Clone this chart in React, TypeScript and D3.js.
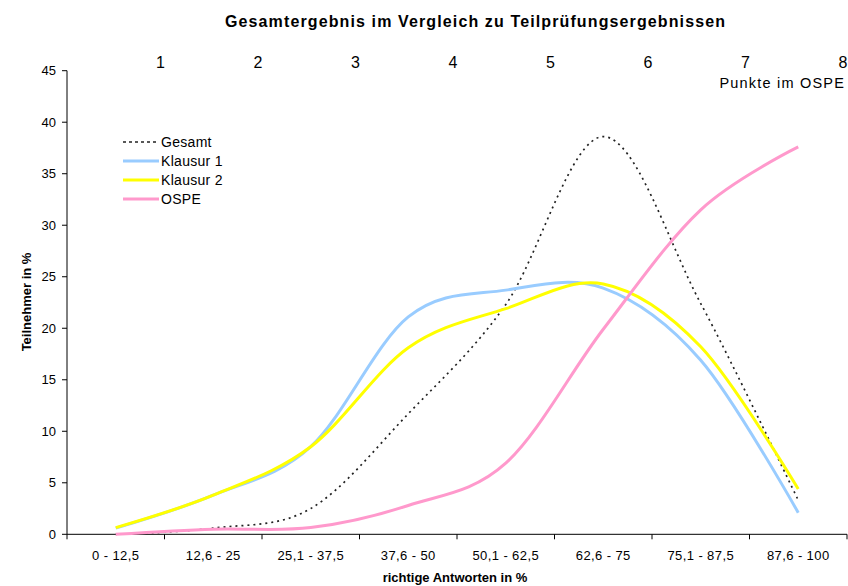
import React from "react";
import * as d3 from "d3";

const categories = ["0 - 12,5", "12,6 - 25", "25,1 - 37,5", "37,6 - 50", "50,1 - 62,5", "62,6 - 75", "75,1 - 87,5", "87,6 - 100"];
const gesamt = [0, 0.6, 2.5, 11.7, 22.3, 38.6, 22.4, 3.3];
const klausur1 = [0.6, 3.8, 8.5, 21.1, 23.7, 23.9, 16.9, 2.1];
const klausur2 = [0.65, 3.8, 8.5, 18.1, 21.9, 24.3, 18.2, 4.4];
const ospe = [0, 0.5, 0.65, 2.8, 6.9, 19.9, 31.5, 37.6];
const yTicks = [0, 5, 10, 15, 20, 25, 30, 35, 40, 45];
const topLabels = ["1", "2", "3", "4", "5", "6", "7", "8"];

const series = [
  { name: "Gesamt", values: gesamt, color: "#222222", width: 1.7, dash: "2,4" },
  { name: "Klausur 1", values: klausur1, color: "#99CCFF", width: 3, dash: undefined },
  { name: "Klausur 2", values: klausur2, color: "#FFFF00", width: 3, dash: undefined },
  { name: "OSPE", values: ospe, color: "#FF99CC", width: 3, dash: undefined },
];

const W = 848;
const H = 586;
const left = 67;
const right = 847;
const top = 70.7;
const bottom = 534.3;
const font = "Arial, 'Liberation Sans', sans-serif";

export default function App() {
  const x = d3.scaleBand<string>().domain(categories).range([left, right]).padding(0);
  const y = d3.scaleLinear().domain([0, 45]).range([bottom, top]);
  const cx = (i: number) => (x(categories[i]) as number) + x.bandwidth() / 2;
  const line = d3
    .line<number>()
    .x((_, i) => cx(i))
    .y((v) => y(v))
    .curve(d3.curveCardinal.tension(0));

  const boundaries = categories.map((c) => x(c) as number).concat([right]);

  return (
    <svg width={W} height={H} style={{ position: "absolute", left: 0, top: 0, background: "#fff" }} fontFamily={font}>
      <rect x={0} y={0} width={W} height={H} fill="#fff" />
      <text x={475} y={27} textAnchor="middle" fontWeight="bold" fontSize={16} textLength={500} lengthAdjust="spacing">
        Gesamtergebnis im Vergleich zu Teilprüfungsergebnissen
      </text>
      {topLabels.map((t, i) => (
        <text key={t} x={boundaries[i + 1] - 4} y={68} textAnchor="middle" fontSize={16}>
          {t}
        </text>
      ))}
      <text x={845} y={88} textAnchor="end" fontSize={14.5} letterSpacing={1.2}>
        Punkte im OSPE
      </text>

      {/* y axis */}
      <line x1={left} x2={left} y1={top} y2={bottom} stroke="#000" />
      {yTicks.map((t) => (
        <g key={t}>
          <line x1={left - 5} x2={left} y1={y(t)} y2={y(t)} stroke="#000" />
          <text x={56} y={y(t) + 4.5} textAnchor="end" fontSize={13}>
            {t}
          </text>
        </g>
      ))}
      <text
        transform={`translate(31,302) rotate(-90)`}
        textAnchor="middle"
        fontWeight="bold"
        fontSize={13}
      >
        Teilnehmer in %
      </text>

      {/* x axis */}
      <line x1={left} x2={right} y1={bottom} y2={bottom} stroke="#000" />
      {boundaries.map((b, i) => (
        <line key={i} x1={b} x2={b} y1={bottom} y2={bottom + 5} stroke="#000" />
      ))}
      {categories.map((c, i) => (
        <text key={c} x={cx(i)} y={560} textAnchor="middle" fontSize={13} letterSpacing={0.4}>
          {c}
        </text>
      ))}
      <text x={455} y={582} textAnchor="middle" fontWeight="bold" fontSize={13}>
        richtige Antworten in %
      </text>

      {/* series */}
      {series.map((s) => (
        <path
          key={s.name}
          d={line(s.values) || ""}
          fill="none"
          stroke={s.color}
          strokeWidth={s.width}
          strokeDasharray={s.dash}
          strokeLinejoin="round"
        />
      ))}

      {/* legend */}
      {series.map((s, i) => {
        const ly = 142 + i * 19;
        return (
          <g key={s.name}>
            <line
              x1={123}
              x2={159}
              y1={ly}
              y2={ly}
              stroke={s.color}
              strokeWidth={s.width}
              strokeDasharray={s.dash ? "3,3" : undefined}
            />
            <text x={161} y={ly + 5} fontSize={14} letterSpacing={0.3}>
              {s.name}
            </text>
          </g>
        );
      })}
    </svg>
  );
}
